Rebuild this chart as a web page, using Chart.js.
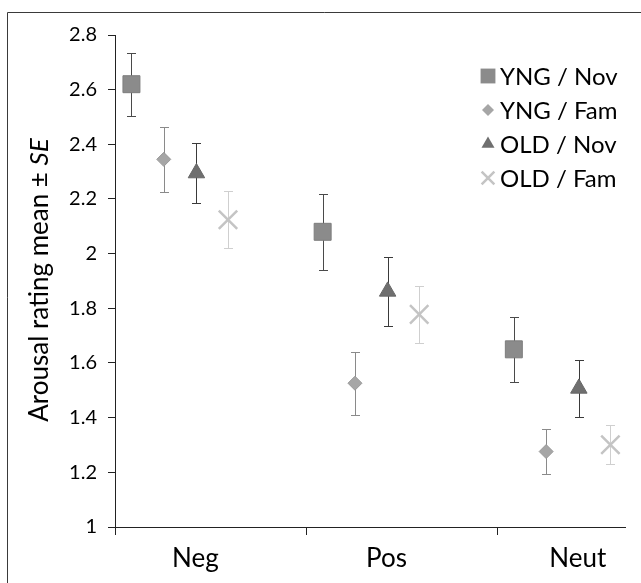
<!DOCTYPE html>
<html>
<head>
<meta charset="utf-8">
<title>Arousal rating</title>
<script src="https://cdn.jsdelivr.net/npm/chart.js@4.4.1/dist/chart.umd.min.js"></script>
<style>
    html, body { margin: 0; padding: 0; background: #fff; }
    #wrap { position: relative; width: 641px; height: 583px; }
</style>
</head>
<body>
<div id="wrap"><canvas id="arousalChart" width="641" height="583"></canvas></div>
<script>
// data
const categories = ["Neg", "Pos", "Neut"];
const seriesNames = ["YNG / Nov", "YNG / Fam", "OLD / Nov", "OLD / Fam"];

const yngNovMean = [2.62, 2.08, 1.65];
const yngNovSE = [0.115, 0.138, 0.118];
const yngFamMean = [2.345, 1.526, 1.276];
const yngFamSE = [0.12, 0.116, 0.082];
const oldNovMean = [2.295, 1.862, 1.507];
const oldNovSE = [0.11, 0.126, 0.105];
const oldFamMean = [2.124, 1.778, 1.301];
const oldFamSE = [0.104, 0.105, 0.071];

const yTicks = [1, 1.2, 1.4, 1.6, 1.8, 2, 2.2, 2.4, 2.6, 2.8];

// layout of markers inside each category slot (in category units)
const seriesOffset = [0.086, 0.255, 0.426, 0.591];
const labelOffset = 0.42;
const xMax = 2.67;

const FONT = "Lato, 'DejaVu Sans', sans-serif";

const styles = [
    { pointStyle: "rect", radius: 12, fill: "#8b8b8b", stroke: "#7d7d7d", bw: 1, bar: "#4a4a4a", lr: 10.5 },
    { pointStyle: "rectRot", radius: 7, fill: "#a6a6a6", stroke: "#999999", bw: 1, bar: "#8a8a8a", lr: 6 },
    { pointStyle: "triangle", radius: 9.5, fill: "#6f6f6f", stroke: "#666666", bw: 1, bar: "#3a3a3a", lr: 7.5 },
    { pointStyle: "crossRot", radius: 13, fill: "#c8c8c8", stroke: "#c4c4c4", bw: 2.5, bar: "#cfcfcf", lr: 9 },
];

const means = [yngNovMean, yngFamMean, oldNovMean, oldFamMean];
const errors = [yngNovSE, yngFamSE, oldNovSE, oldFamSE];

const datasets = seriesNames.map(function (name, s) {
    const st = styles[s];
    return {
        label: name,
        data: means[s].map(function (m, i) {
            return { x: i + seriesOffset[s], y: m };
        }),
        showLine: false,
        pointStyle: st.pointStyle,
        pointRadius: st.radius,
        pointBackgroundColor: st.fill,
        pointBorderColor: st.stroke,
        pointBorderWidth: st.bw,
    };
});

// tick values on x: category boundaries get tick marks, label positions get names
const xBoundaries = categories.map(function (c, i) { return i; });
const xLabelPos = categories.map(function (c, i) { return i + labelOffset; });

function labelFor(value) {
    for (let i = 0; i < xLabelPos.length; i++) {
        if (Math.abs(xLabelPos[i] - value) < 1e-6) return categories[i];
    }
    return "";
}

const frameLines = {
    id: "frameLines",
    beforeDraw: function (chart) {
        const ctx = chart.ctx;
        ctx.save();
        ctx.strokeStyle = "#3a3a3a";
        ctx.lineWidth = 1;
        ctx.beginPath();
        ctx.moveTo(7.5, 583);
        ctx.lineTo(7.5, 12.5);
        ctx.lineTo(641, 12.5);
        ctx.stroke();
        ctx.restore();
    },
};

const errorBars = {
    id: "errorBars",
    beforeDatasetsDraw: function (chart) {
        const ctx = chart.ctx;
        const xs = chart.scales.x;
        const ys = chart.scales.y;
        ctx.save();
        ctx.lineWidth = 1;
        chart.data.datasets.forEach(function (ds, s) {
            ctx.strokeStyle = styles[s].bar;
            ds.data.forEach(function (pt, i) {
                const px = Math.round(xs.getPixelForValue(pt.x)) + 0.5;
                const top = Math.round(ys.getPixelForValue(pt.y + errors[s][i])) + 0.5;
                const bot = Math.round(ys.getPixelForValue(pt.y - errors[s][i])) + 0.5;
                ctx.beginPath();
                ctx.moveTo(px, top);
                ctx.lineTo(px, bot);
                ctx.moveTo(px - 4.5, top);
                ctx.lineTo(px + 4.5, top);
                ctx.moveTo(px - 4.5, bot);
                ctx.lineTo(px + 4.5, bot);
                ctx.stroke();
            });
        });
        ctx.restore();
    },
};

function drawMarker(ctx, st, x, y, r) {
    ctx.save();
    ctx.fillStyle = st.fill;
    ctx.strokeStyle = st.stroke;
    ctx.beginPath();
    if (st.pointStyle === "rect") {
        const h = r * Math.SQRT1_2;
        ctx.rect(x - h, y - h, 2 * h, 2 * h);
        ctx.fill();
    } else if (st.pointStyle === "rectRot") {
        ctx.moveTo(x - r, y);
        ctx.lineTo(x, y - r);
        ctx.lineTo(x + r, y);
        ctx.lineTo(x, y + r);
        ctx.closePath();
        ctx.fill();
    } else if (st.pointStyle === "triangle") {
        ctx.moveTo(x, y - r);
        ctx.lineTo(x + r * 0.866, y + r * 0.5);
        ctx.lineTo(x - r * 0.866, y + r * 0.5);
        ctx.closePath();
        ctx.fill();
    } else {
        const o = r * Math.SQRT1_2;
        ctx.lineWidth = 2.5;
        ctx.moveTo(x - o, y - o);
        ctx.lineTo(x + o, y + o);
        ctx.moveTo(x + o, y - o);
        ctx.lineTo(x - o, y + o);
        ctx.stroke();
    }
    ctx.restore();
}

const insideLegend = {
    id: "insideLegend",
    afterDraw: function (chart) {
        const ctx = chart.ctx;
        const x0 = 488;
        const y0 = 76;
        const step = 34;
        ctx.save();
        ctx.font = "24px " + FONT;
        ctx.textBaseline = "middle";
        ctx.textAlign = "left";
        seriesNames.forEach(function (name, s) {
            const y = y0 + s * step;
            drawMarker(ctx, styles[s], x0, y, styles[s].lr);
            ctx.fillStyle = "#000";
            ctx.fillText(name, x0 + 12, y + 1);
        });
        ctx.restore();
    },
};

const axisTitle = {
    id: "axisTitle",
    afterDraw: function (chart) {
        const ctx = chart.ctx;
        const plain = "Arousal rating mean \u00b1 ";
        const ital = "SE";
        ctx.save();
        ctx.translate(40, 280);
        ctx.rotate(-Math.PI / 2);
        ctx.fillStyle = "#000";
        ctx.textBaseline = "middle";
        ctx.textAlign = "left";
        ctx.font = "26px " + FONT;
        const w1 = ctx.measureText(plain).width;
        ctx.font = "italic 26px " + FONT;
        const w2 = ctx.measureText(ital).width;
        const start = -(w1 + w2) / 2;
        ctx.font = "26px " + FONT;
        ctx.fillText(plain, start, 0);
        ctx.font = "italic 26px " + FONT;
        ctx.fillText(ital, start + w1, 0);
        ctx.restore();
    },
};

const ctx = document.getElementById("arousalChart").getContext("2d");

new Chart(ctx, {
    type: "scatter",
    data: { datasets: datasets },
    options: {
        responsive: false,
        animation: false,
        events: [],
        layout: { padding: { top: 35, right: 8, bottom: 0, left: 0 } },
        plugins: {
            legend: { display: false },
            tooltip: { enabled: false },
        },
        scales: {
            x: {
                type: "linear",
                min: 0,
                max: xMax,
                afterBuildTicks: function (scale) {
                    const vals = xBoundaries.concat(xLabelPos).sort(function (a, b) { return a - b; });
                    scale.ticks = vals.map(function (v) { return { value: v }; });
                },
                afterFit: function (scale) {
                    scale.height = 56;
                },
                ticks: {
                    autoSkip: false,
                    maxRotation: 0,
                    padding: 8,
                    color: "#000",
                    font: { family: FONT, size: 26 },
                    callback: function (value) {
                        return labelFor(value);
                    },
                },
                grid: {
                    drawOnChartArea: false,
                    drawTicks: true,
                    tickLength: 8,
                    tickColor: function (c) {
                        return c.tick && labelFor(c.tick.value) === "" ? "#222" : "rgba(0,0,0,0)";
                    },
                },
                border: { display: true, color: "#222", width: 1 },
            },
            y: {
                type: "linear",
                min: 1,
                max: 2.8,
                afterBuildTicks: function (scale) {
                    scale.ticks = yTicks.map(function (v) { return { value: v }; });
                },
                afterFit: function (scale) {
                    scale.width = 115;
                },
                ticks: {
                    padding: 11,
                    color: "#000",
                    font: { family: FONT, size: 20 },
                    callback: function (value) {
                        return String(Math.round(value * 10) / 10);
                    },
                },
                grid: {
                    drawOnChartArea: false,
                    drawTicks: true,
                    tickLength: 7,
                    tickColor: "#222",
                },
                border: { display: true, color: "#222", width: 1 },
            },
        },
    },
    plugins: [frameLines, errorBars, insideLegend, axisTitle],
});
</script>
</body>
</html>
